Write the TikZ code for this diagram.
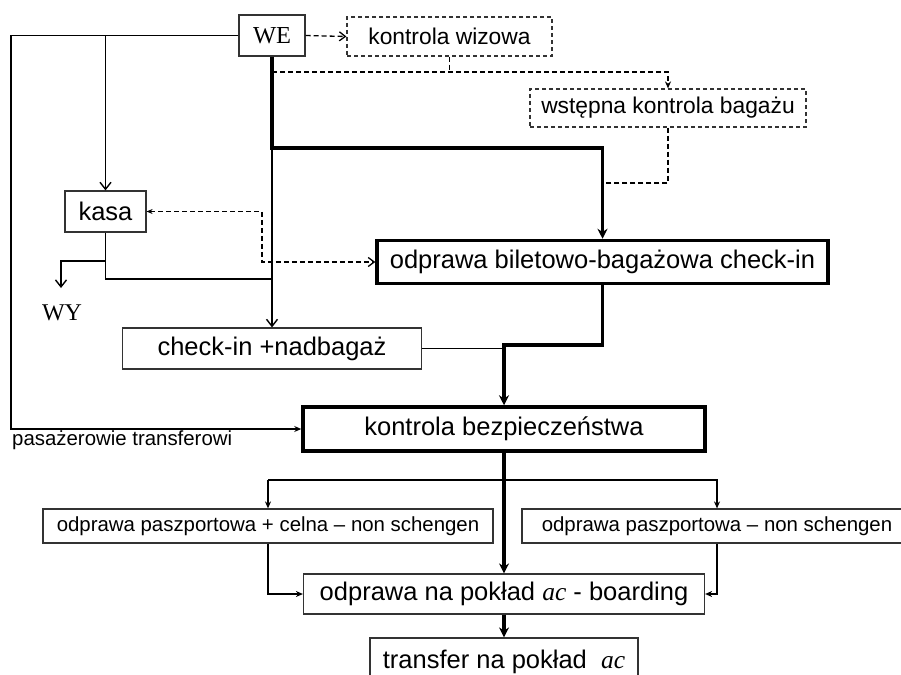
\documentclass[tikz,border=0pt]{standalone}
\usepackage{fontspec}
\setmainfont{Liberation Sans}
\newfontfamily\tnr{Liberation Serif}
\usetikzlibrary{arrows.meta}
\begin{document}
\begin{tikzpicture}[x=1pt,y=-1pt,
  box/.style={draw=black!80, line width=1.2pt, inner sep=0pt, font=\fontsize{25.5}{28}\selectfont},
  bigbox/.style={box, draw=black, line width=3.5pt},
  dbox/.style={box, dash pattern=on 4pt off 3pt, font=\fontsize{22.8}{26}\selectfont},
  sbox/.style={box, font=\fontsize{20.4}{24}\selectfont},
  ln/.style={line width=1.4pt},
  tk/.style={line width=3.6pt},
  dl/.style={line width=1.3pt, dash pattern=on 5pt off 3pt},
  va/.style={-{Straight Barb[length=7pt,width=11pt]}},
  fa/.style={-{Stealth[length=7pt,width=6pt]}},
  ta/.style={-{Stealth[length=10pt,width=10pt]}},
]
\useasboundingbox (0,0) rectangle (901,674);
\fill[white] (0,0) rectangle (901,674);
\clip (0,0) rectangle (901,674);

% nodes
\node[box, minimum width=66pt, minimum height=41pt, font=\fontsize{24.4}{26}\tnr] (we) at (272,35.5) {WE};
\node[dbox, minimum width=205pt, minimum height=39pt] (kw) at (449.5,36.5) {kontrola wizowa};
\node[dbox, minimum width=276pt, minimum height=38pt] (wk) at (668,108) {wstępna kontrola bagażu};
\node[bigbox, minimum width=451pt, minimum height=43pt] (obb) at (602.5,262) {odprawa biletowo-bagażowa check-in};
\node[box, minimum width=81pt, minimum height=41pt] (kasa) at (105.5,211.5) {kasa};
\node[box, minimum width=299pt, minimum height=41pt] (ci) at (272,348.5) {check-in +nadbagaż};
\node[bigbox, minimum width=402pt, minimum height=44pt] (kb) at (504,429) {kontrola bezpieczeństwa};
\node[sbox, minimum width=450pt, minimum height=34pt] (pc) at (268,526) {odprawa paszportowa + celna -- non schengen};
\node[sbox, minimum width=390pt, minimum height=34pt] (pn) at (717,526) {odprawa paszportowa -- non schengen};
\node[box, minimum width=401pt, minimum height=40pt] (onp) at (504,594) {odprawa na pokład {\tnr\itshape ac} - boarding};
\node[box, minimum width=268pt, minimum height=48pt] (tr) at (504,662) {transfer na pokład\ \ {\tnr\itshape ac}};
\node[font=\fontsize{24}{26}\tnr, inner sep=0pt] (wy) at (62,313) {WY};
\node[anchor=west, font=\fontsize{20.4}{24}\selectfont, inner sep=0pt] (pt) at (12,440) {pasażerowie transferowi};

% helper coordinates
\coordinate (lx) at (11,0);
\coordinate (h1) at (0,148);
\coordinate (h2) at (0,72);
\coordinate (h3) at (0,183);
\coordinate (v1) at (262,240);
\coordinate (h4) at (0,279);
\coordinate (h5) at (0,261);
\coordinate (wya) at (61,288);
\coordinate (h6) at (0,345);
\coordinate (h7) at (0,480);

% connectors
\draw[ln,fa] (we.west) -- (we.west -| lx) |- (kb.west);
\draw[ln,va] (kasa.north |- we.west) -- (kasa.north);
\draw[tk,ta] (we.south) -- (we.south |- h1) -| (obb.north);
\draw[ln,va] (we.south |- h1) -- (ci.north);
\draw[dl,fa] (we.south |- h2) -| (wk.north);
\draw[dl] (kw.south) -- (kw.south |- h2);
\draw[dl,-{Straight Barb[length=6pt,width=9pt]}] (we.east) -- (kw.west);
\draw[dl] (wk.south) |- (obb.north |- h3);
\draw[dl,{Stealth[length=6pt,width=5pt]}-{Straight Barb[length=6pt,width=9pt]}] (kasa.east) -| (v1) |- (obb.west);
\draw[ln] (kasa.south) |- (we.south |- h4);
\draw[ln,va] (kasa.south |- h5) -| (wya);
\draw[tk,ta] (obb.south) |- (kb.north |- h6) -- (kb.north);
\draw[ln] (ci.east) -- (kb.north |- ci.east);
\draw[tk,ta] (kb.south) -- (onp.north);
\draw[ln,fa] (pc.north |- h7) -- (pc.north);
\draw[ln,fa] (pc.north |- h7) -- (pn.north |- h7) -- (pn.north);
\draw[ln,fa] (pc.south) |- (onp.west);
\draw[ln,fa] (pn.south) |- (onp.east);
\draw[tk,ta] (onp.south) -- (tr.north);
\end{tikzpicture}
\end{document}
